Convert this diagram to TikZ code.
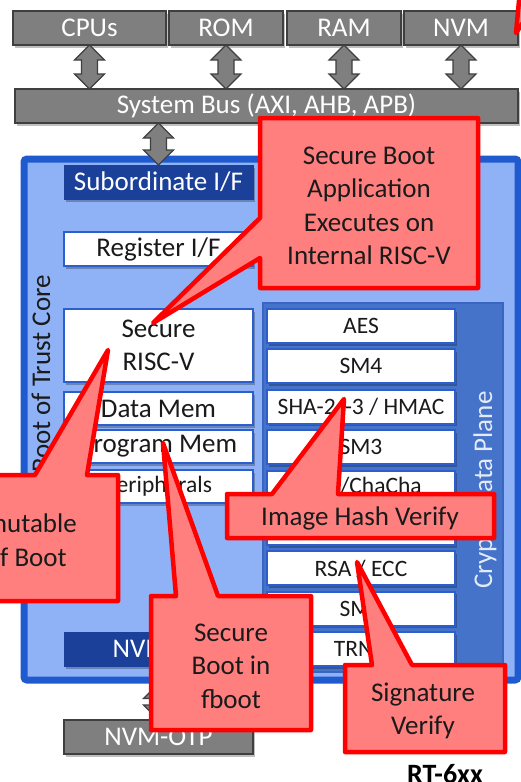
\documentclass[tikz,border=0pt]{standalone}
\usepackage{fontspec}
\setmainfont{Carlito}
\usetikzlibrary{shadows,calc}
\definecolor{greybox}{HTML}{7F7F7F}
\definecolor{greyline}{HTML}{3F3F3F}
\definecolor{rotborder}{HTML}{1F5BCF}
\definecolor{rotfill}{HTML}{8FB1F5}
\definecolor{darkblue}{HTML}{1A4099}
\definecolor{cdpfill}{HTML}{4573C9}
\definecolor{cdpline}{HTML}{3A66C2}
\definecolor{boxline}{HTML}{2C5FCC}
\definecolor{calfill}{HTML}{FF7F7F}
\definecolor{calline}{HTML}{FF0000}
\definecolor{txt}{HTML}{1A1A1A}
\definecolor{lbl}{HTML}{E3EAF8}
\tikzset{
  big/.style={font=\fontsize{27}{33.5}\selectfont},
  small/.style={font=\fontsize{23.5}{28}\selectfont},
  shad/.style={drop shadow={shadow xshift=2pt,shadow yshift=-2.5pt,opacity=0.25,fill=black}},
  greyblk/.style={draw=greyline,line width=1.3pt,fill=greybox,text=white,big,inner sep=0pt,outer sep=0pt,anchor=north west,shad},
  whitebox/.style={draw=boxline,line width=2pt,fill=white,text=txt,big,inner sep=0pt,outer sep=0pt,anchor=north west,align=center,shad},
  cryptobox/.style={whitebox,small,minimum width=188pt,minimum height=34pt},
  darkbox/.style={draw=darkblue,line width=1pt,fill=darkblue,text=white,big,inner sep=0pt,outer sep=0pt,anchor=north west,shad},
  darrow/.style={draw=greyline,line width=1.2pt,fill=greybox,line join=miter},
  callout/.style={draw=calline,fill=calfill,line width=4.5pt,line join=round},
  calltext/.style={big,text=txt,align=center,inner sep=0pt},
}
\newcommand{\vdarrow}[2]{%
  \draw[darrow] let \p1=(#1), \p2=(#2) in
  (\x1,\y1) -- (\x1+15pt,\y1-15pt) -- (\x1+8pt,\y1-15pt) -- (\x1+8pt,\y2+15pt)
  -- (\x1+15pt,\y2+15pt) -- (\x1,\y2) -- (\x1-15pt,\y2+15pt) -- (\x1-8pt,\y2+15pt)
  -- (\x1-8pt,\y1-15pt) -- (\x1-15pt,\y1-15pt) -- cycle;}
\begin{document}
\begin{tikzpicture}[x=1pt,y=-1pt]
\useasboundingbox (0,0) rectangle (520,782);
% top row
\node[greyblk,minimum width=153pt,minimum height=34pt] (cpu) at (13,11) {CPUs};
\node[greyblk,minimum width=114pt,minimum height=34pt] (rom) at (169,11) {ROM};
\node[greyblk,minimum width=114pt,minimum height=34pt] (ram) at (287,11) {RAM};
\node[greyblk,minimum width=114pt,minimum height=34pt] (nvm) at (404,11) {NVM};
\node[greyblk,minimum width=503pt,minimum height=34pt] (bus) at (15,89) {System Bus (AXI, AHB, APB)};
\node[greyblk,minimum width=189pt,minimum height=34pt] (nvmotp) at (64,720) {NVM-OTP};
% root of trust core
\node[draw=rotborder,fill=rotfill,line width=7pt,rounded corners=3pt,inner sep=0pt,outer sep=3.5pt,anchor=north west,minimum width=494pt,minimum height=521pt] (rot) at (20.5,155.5) {};
\node[big,text=txt,rotate=90] (rotlbl) at (41,374) {Root of Trust Core};
% crypto data plane
\node[draw=cdpline,fill=cdpfill,line width=1.5pt,inner sep=0pt,outer sep=0pt,anchor=north west,minimum width=240pt,minimum height=369pt] (cdp) at (263,303) {};
\node[big,text=lbl,rotate=90] (cdplbl) at (485,490) {Crypto Data Plane};
% left column
\node[darkbox,minimum width=189pt,minimum height=34pt] (sub) at (64,165) {Subordinate I/F};
\node[whitebox,minimum width=189pt,minimum height=34pt] (reg) at (64,232) {Register I/F};
\node[whitebox,minimum width=189pt,minimum height=73pt] (risc) at (64,309) {Secure\\RISC-V};
\node[whitebox,minimum width=189pt,minimum height=33pt] (dmem) at (64,392) {Data Mem};
\node[whitebox,minimum width=189pt,minimum height=33pt] (pmem) at (64,430) {Program Mem};
\node[whitebox,small,minimum width=189pt,minimum height=33pt] (peri) at (64,470) {Peripherals};
\node[darkbox,minimum width=189pt,minimum height=34pt] (nvmif) at (64,632) {NVM I/F};
% crypto boxes
\node[cryptobox] (aes) at (267,309) {AES};
\node[cryptobox] (sm4) at (267,349.4) {SM4};
\node[cryptobox] (sha) at (267,389.8) {SHA-2/-3 / HMAC};
\node[cryptobox] (sm3) at (267,430.2) {SM3};
\node[cryptobox] (poly) at (267,470.6) {Poly/ChaCha};
\node[cryptobox] (hid) at (267,511) {};
\node[cryptobox] (rsa) at (267,551.4) {RSA / ECC};
\node[cryptobox] (sm2) at (267,591.8) {SM2};
\node[cryptobox] (trng) at (267,632.2) {TRNG};
% arrows
\vdarrow{cpu.south}{bus.north}
\vdarrow{rom.south}{bus.north}
\vdarrow{ram.south}{bus.north}
\vdarrow{nvm.south}{bus.north}
\vdarrow{sub.north |- bus.south}{sub.north}
\vdarrow{nvmotp.north |- rot.south}{nvmotp.north}
% callouts
\draw[callout] (260,118) -- (478,118) -- (478,288) -- (260,288) -- (260,258) -- (153,323) -- (260,218) -- cycle;
\node[calltext] (ca) at (369,206) {Secure Boot\\Application\\Executes on\\Internal RISC-V};
\draw[callout] (-30,475) -- (35,475) -- (108,350) -- (87,475) -- (118,475) -- (118,601) -- (-30,601) -- cycle;
\node[calltext,align=right,anchor=east] (cb) at (77,540) {Immutable\\Root of Boot\hspace*{10pt}};
\draw[callout] (227,494) -- (272,494) -- (344,399) -- (338,494) -- (494,494) -- (494,538) -- (227,538) -- cycle;
\node[calltext] (cc) at (360,518) {Image Hash Verify};
\draw[callout] (151,596) -- (176,596) -- (163,443) -- (218,596) -- (311,596) -- (311,730) -- (151,730) -- cycle;
\node[calltext] (cd) at (231,666) {Secure\\Boot in\\fboot};
\draw[callout] (345,665) -- (372,665) -- (357,562) -- (412,665) -- (505,665) -- (505,752) -- (345,752) -- cycle;
\node[calltext] (ce) at (423,711) {Signature\\Verify};
\draw[callout] (516,33) -- (520,-10) -- (545,-10) -- cycle;
% label
\node[font=\fontsize{28}{32}\selectfont\bfseries,text=black,anchor=base,inner sep=0pt] (rt) at (445,783.5) {RT-6xx};
\end{tikzpicture}
\end{document}
